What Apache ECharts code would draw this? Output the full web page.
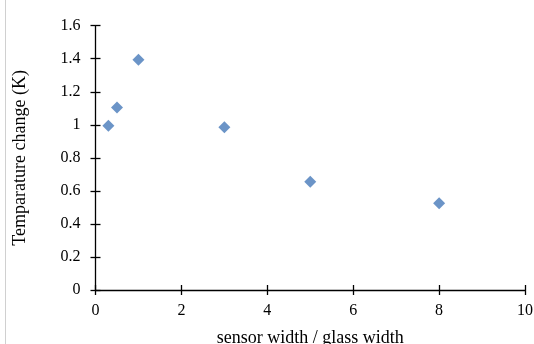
<!DOCTYPE html>
<html><head><meta charset="utf-8">
<script src="https://cdn.jsdelivr.net/npm/echarts@6/dist/echarts.min.js"></script>
<style>html,body{margin:0;padding:0;background:#fff}#c{width:534px;height:344px}</style>
</head><body><div id="c"></div>
<script>
const xValues = [0.3, 0.5, 1, 3, 5, 8];
const yValues = [0.994, 1.105, 1.394, 0.986, 0.656, 0.525];
const xTitle = 'sensor width / glass width';
const yTitle = 'Temparature change (K)';

const font = 'Liberation Serif';
const chart = echarts.init(document.getElementById('c'));
const axisLine = {show: true, onZero: false, lineStyle: {color: '#000', width: 1.3}};
chart.setOption({
  animation: false,
  backgroundColor: '#fff',
  grid: {left: 95.5, right: 9, top: 25.7, bottom: 54, containLabel: false, outerBoundsMode: 'none'},
  graphic: [{type: 'line', shape: {x1: 5.5, y1: 0, x2: 5.5, y2: 344}, style: {stroke: '#d0d0d0', lineWidth: 1}}],
  xAxis: [{
    type: 'value', min: 0, max: 10, interval: 2,
    name: xTitle, nameLocation: 'middle', nameGap: 39,
    nameTextStyle: {fontFamily: font, fontSize: 18, color: '#000'},
    axisLine: axisLine,
    axisTick: {show: true, length: 5, lineStyle: {color: '#000', width: 1.3}},
    axisLabel: {fontFamily: font, fontSize: 16, color: '#000', margin: 13},
    splitLine: {show: false}
  }, {
    type: 'value', min: 0, max: 10, interval: 2, position: 'bottom',
    axisLine: {show: false},
    axisTick: {show: true, inside: true, length: 5, lineStyle: {color: '#000', width: 1.3}},
    axisLabel: {show: false}, splitLine: {show: false}
  }],
  yAxis: [{
    type: 'value', min: 0, max: 1.6, interval: 0.2,
    name: yTitle, nameLocation: 'middle', nameGap: 66,
    nameTextStyle: {fontFamily: font, fontSize: 18, color: '#000'},
    axisLine: axisLine,
    axisTick: {show: true, length: 5, lineStyle: {color: '#000', width: 1.3}},
    axisLabel: {fontFamily: font, fontSize: 16, color: '#000', margin: 15},
    splitLine: {show: false}
  }, {
    type: 'value', min: 0, max: 1.6, interval: 0.2, position: 'left',
    axisLine: {show: false},
    axisTick: {show: true, inside: true, length: 5, lineStyle: {color: '#000', width: 1.3}},
    axisLabel: {show: false}, splitLine: {show: false}
  }],
  series: [{
    type: 'scatter',
    symbol: 'diamond',
    symbolSize: 12,
    itemStyle: {color: '#4679b9'},
    data: xValues.map((x, i) => [x, yValues[i]])
  }]
});
</script></body></html>
